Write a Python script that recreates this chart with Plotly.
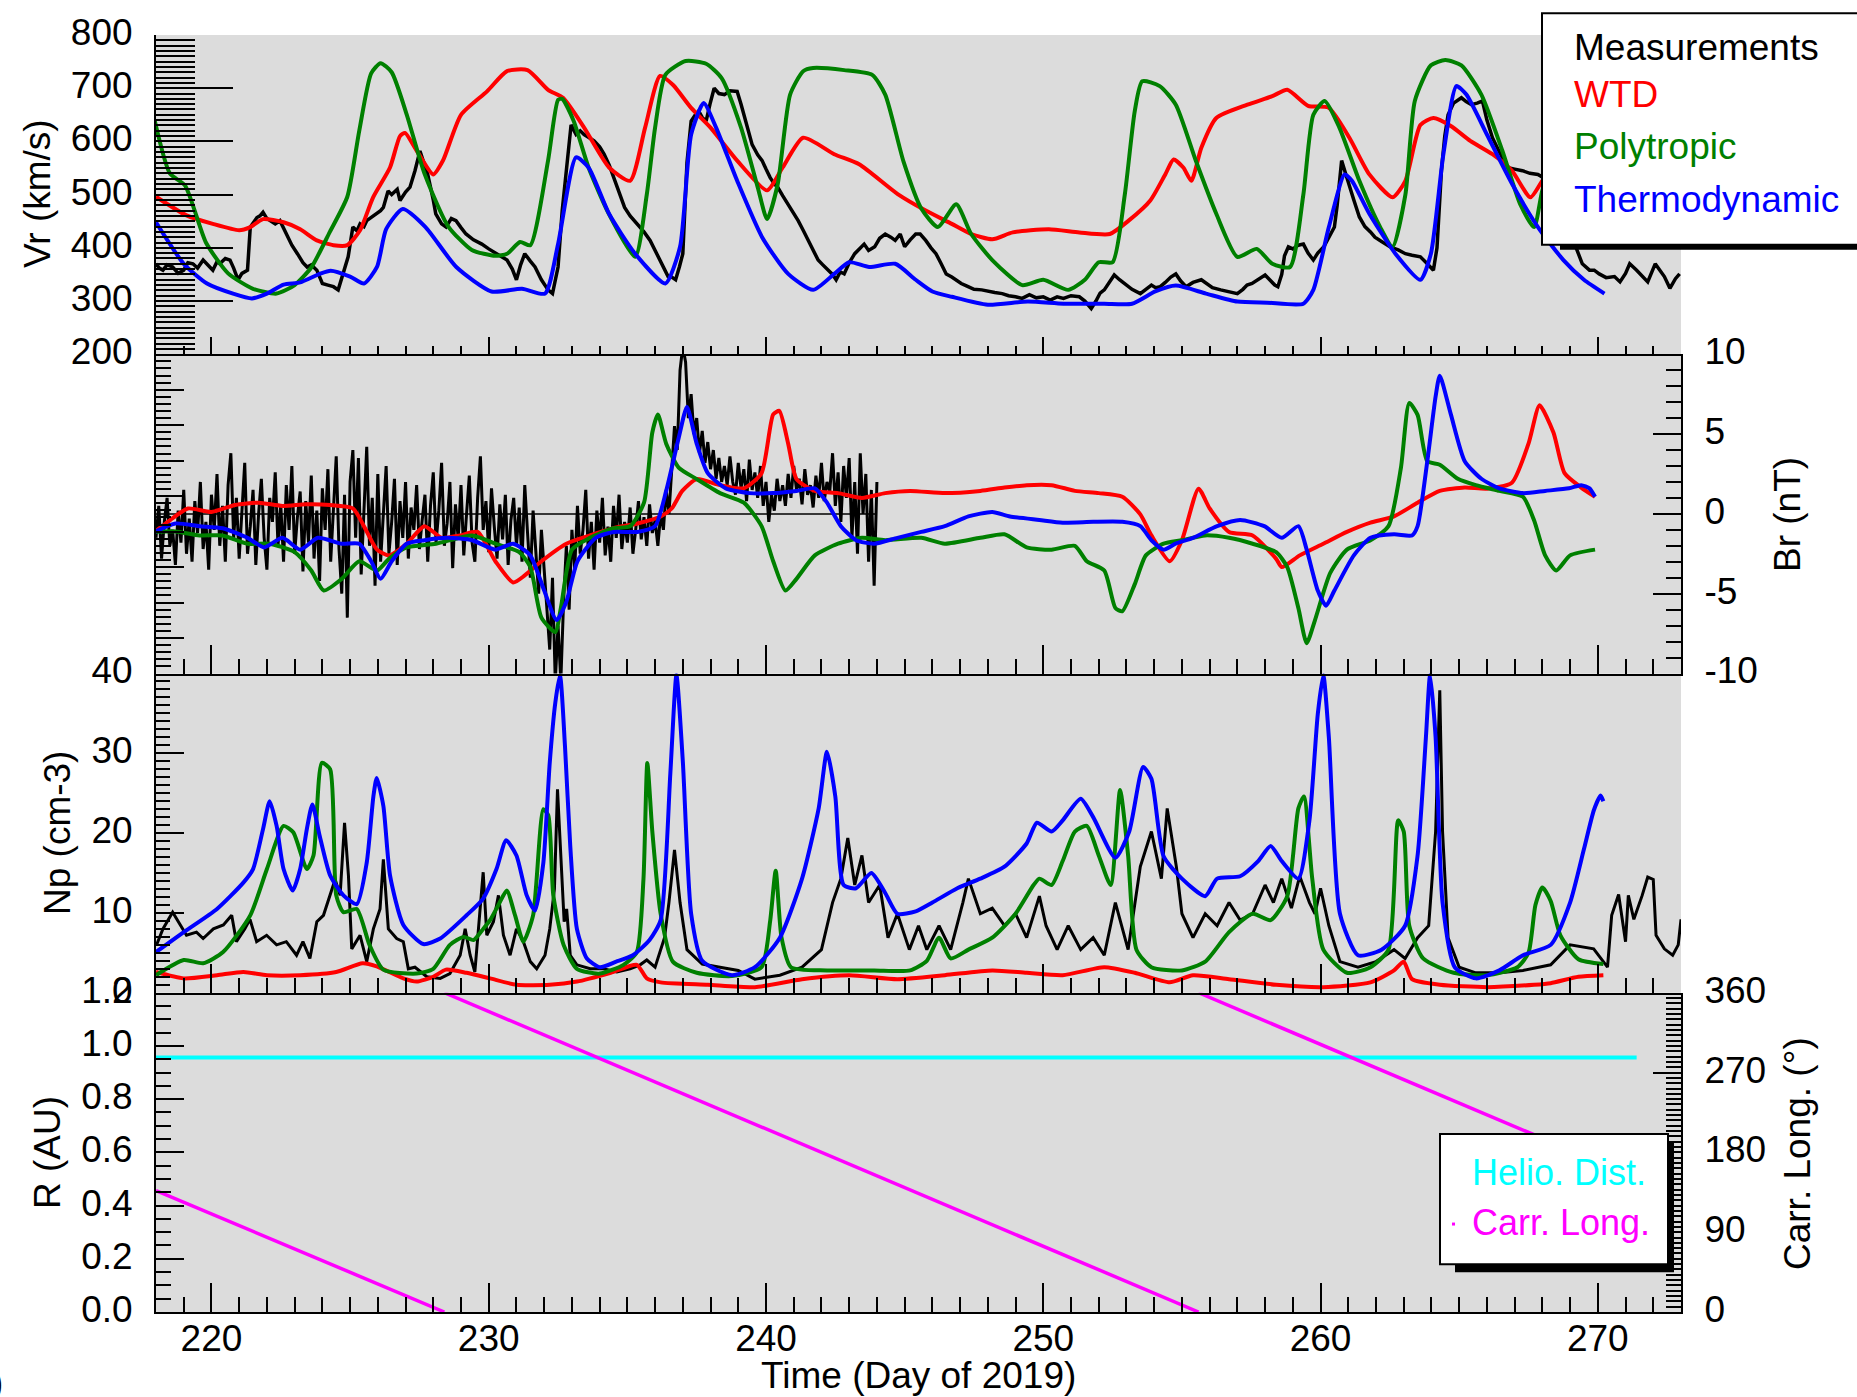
import plotly.graph_objects as go

FONT = "Liberation Sans, Arial, Helvetica, sans-serif"

# ---------------- Panel 1: Vr (km/s) ----------------
VR_MEAS_DAY = [218.0, 218.12, 218.25, 218.4, 218.6, 218.8, 219.0, 219.15, 219.33, 219.5, 219.7, 219.85, 220.05, 220.2, 220.3, 220.5, 220.67, 220.8, 220.96, 221.1, 221.3, 221.4, 221.55, 221.64, 221.75, 221.86, 222.0, 222.1, 222.3, 222.47, 222.6, 222.7, 222.9, 223.1, 223.3, 223.45, 223.6, 223.8, 223.9, 224.0, 224.2, 224.4, 224.57, 224.75, 224.93, 225.1, 225.25, 225.36, 225.5, 225.6, 225.8, 225.97, 226.1, 226.2, 226.37, 226.5, 226.7, 226.8, 227.0, 227.16, 227.34, 227.52, 227.65, 227.8, 228.0, 228.09, 228.3, 228.46, 228.65, 228.82, 229.0, 229.18, 229.45, 229.75, 230.0, 230.3, 230.5, 230.66, 230.85, 231.0, 231.15, 231.3, 231.5, 231.67, 231.9, 232.14, 232.3, 232.5, 232.65, 232.8, 232.97, 233.15, 233.3, 233.44, 233.6, 233.8, 234.0, 234.16, 234.35, 234.52, 234.7, 234.9, 235.1, 235.35, 235.6, 235.82, 236.0, 236.18, 236.35, 236.47, 236.6, 236.74, 236.88, 237.0, 237.15, 237.3, 237.45, 237.57, 237.7, 237.84, 237.98, 238.13, 238.3, 238.5, 238.7, 238.96, 239.1, 239.2, 239.35, 239.5, 239.7, 239.86, 240.0, 240.15, 240.3, 240.42, 240.6, 240.8, 241.0, 241.16, 241.35, 241.52, 241.7, 241.88, 242.05, 242.26, 242.4, 242.53, 242.68, 242.82, 243.0, 243.2, 243.35, 243.54, 243.7, 243.92, 244.1, 244.3, 244.5, 244.66, 244.84, 245.0, 245.2, 245.4, 245.56, 245.76, 245.95, 246.13, 246.3, 246.5, 246.7, 246.9, 247.04, 247.25, 247.5, 247.78, 248.0, 248.25, 248.52, 248.75, 249.0, 249.24, 249.5, 249.75, 250.0, 250.25, 250.5, 250.73, 251.0, 251.3, 251.5, 251.73, 251.9, 252.05, 252.2, 252.4, 252.56, 252.75, 252.94, 253.2, 253.5, 253.7, 253.9, 254.05, 254.22, 254.4, 254.6, 254.78, 254.95, 255.15, 255.4, 255.7, 255.9, 256.1, 256.4, 256.7, 257.0, 257.2, 257.35, 257.53, 257.75, 258.0, 258.2, 258.35, 258.46, 258.6, 258.7, 258.84, 259.0, 259.2, 259.38, 259.55, 259.74, 259.9, 260.12, 260.3, 260.5, 260.6, 260.68, 260.76, 260.9, 261.04, 261.2, 261.4, 261.6, 261.8, 261.96, 262.2, 262.5, 262.8, 263.06, 263.3, 263.6, 263.85, 264.07, 264.2, 264.36, 264.48, 264.6, 264.8, 265.08, 265.25, 265.44, 265.65, 265.84, 266.0, 266.2, 266.45, 266.74, 267.0, 267.28, 267.55, 267.84, 268.1, 268.4, 268.7, 269.0, 269.2, 269.44, 269.7, 269.87, 270.05, 270.3, 270.6, 270.8, 271.0, 271.15, 271.4, 271.6, 271.8, 272.07, 272.2, 272.4, 272.6, 272.8, 272.95]
VR_MEAS = [370, 362, 358, 368, 364, 352, 358, 372, 370, 362, 377, 368, 358, 374, 370, 380, 377, 362, 340, 352, 358, 439, 450, 457, 460, 467, 455, 451, 445, 451, 438, 426, 405, 389, 372, 364, 368, 358, 345, 333, 330, 327, 321, 351, 383, 439, 432, 445, 440, 451, 458, 464, 470, 476, 507, 500, 510, 489, 505, 514, 545, 582, 560, 538, 490, 464, 445, 439, 455, 451, 438, 426, 415, 407, 398, 389, 382, 377, 360, 340, 368, 389, 375, 364, 340, 321, 314, 364, 470, 551, 631, 613, 620, 613, 608, 601, 590, 576, 555, 532, 505, 476, 460, 445, 430, 414, 395, 377, 360, 346, 345, 340, 365, 389, 560, 638, 650, 657, 645, 638, 670, 700, 690, 688, 695, 694, 670, 650, 620, 594, 575, 564, 548, 532, 520, 514, 498, 482, 465, 451, 432, 414, 395, 377, 368, 358, 350, 340, 355, 351, 372, 389, 398, 407, 395, 402, 418, 426, 420, 414, 426, 402, 415, 426, 426, 414, 400, 389, 372, 351, 345, 338, 333, 328, 322, 321, 318, 316, 314, 310, 308, 305, 312, 306, 308, 302, 308, 305, 310, 308, 300, 286, 300, 315, 321, 338, 349, 340, 333, 322, 314, 322, 330, 325, 327, 335, 345, 351, 338, 327, 335, 340, 332, 325, 321, 318, 314, 322, 330, 333, 340, 349, 338, 330, 327, 350, 385, 402, 398, 405, 407, 390, 377, 390, 402, 420, 439, 480, 530, 564, 540, 514, 490, 458, 440, 430, 420, 412, 402, 396, 389, 386, 383, 370, 358, 400, 545, 610, 650, 672, 682, 675, 669, 672, 676, 640, 607, 580, 551, 548, 545, 540, 538, 530, 510, 470, 430, 401, 370, 358, 358, 351, 344, 346, 336, 352, 370, 358, 348, 336, 370, 360, 346, 324, 342, 351]

VR_WTD_DAY = [218.0, 219.1, 220.05, 221.0, 221.4, 221.86, 222.6, 223.2, 223.8, 224.4, 224.9, 225.36, 225.83, 226.44, 226.8, 226.98, 227.34, 228.0, 228.35, 229.0, 229.94, 230.66, 231.4, 232.14, 232.68, 233.44, 234.34, 235.1, 235.64, 236.18, 236.65, 237.3, 238.0, 238.96, 240.04, 240.6, 241.34, 242.46, 243.36, 244.75, 245.76, 246.7, 247.4, 248.16, 248.9, 250.2, 251.3, 252.4, 253.1, 253.86, 254.4, 254.7, 255.05, 255.34, 255.7, 256.24, 257.36, 258.26, 258.8, 259.55, 260.3, 261.04, 261.76, 262.6, 263.06, 263.6, 264.07, 264.7, 265.4, 266.2, 266.9, 267.57, 268.0, 268.6, 269.4, 270.3]
VR_WTD = [496, 461, 445, 433, 439, 454, 448, 435, 414, 405, 405, 433, 495, 551, 610, 616, 588, 538, 564, 650, 694, 732, 734, 697, 682, 626, 551, 526, 626, 723, 706, 663, 626, 564, 508, 551, 607, 576, 557, 501, 470, 445, 426, 416, 429, 435, 429, 426, 452, 489, 538, 566, 551, 526, 588, 644, 669, 685, 697, 667, 663, 607, 538, 495, 526, 631, 644, 629, 601, 576, 545, 495, 526, 560, 565, 560]

VR_POLY_DAY = [217.95, 218.5, 219.05, 219.8, 220.6, 221.5, 222.35, 223.0, 223.6, 224.27, 224.9, 225.33, 225.76, 226.1, 226.5, 227.04, 227.68, 228.53, 229.39, 230.24, 230.66, 231.13, 231.5, 232.14, 232.5, 232.65, 233.06, 233.6, 234.34, 235.28, 235.7, 236.0, 236.37, 237.1, 237.84, 238.4, 239.1, 239.7, 240.04, 240.42, 240.87, 241.34, 241.7, 242.82, 243.83, 244.3, 244.96, 245.6, 246.2, 246.86, 247.4, 248.16, 249.24, 250.0, 250.9, 251.5, 252.0, 252.5, 252.94, 253.3, 253.57, 254.2, 254.78, 255.5, 256.24, 257.0, 257.7, 258.26, 258.9, 259.38, 259.74, 260.15, 260.68, 261.4, 262.15, 262.6, 263.06, 263.4, 263.98, 264.5, 265.08, 265.8, 266.56, 267.2, 267.7, 268.0, 268.5, 269.3, 270.3]
VR_POLY = [640, 540, 517, 410, 352, 323, 314, 330, 363, 430, 496, 620, 728, 747, 730, 651, 540, 441, 396, 385, 389, 411, 405, 564, 678, 680, 639, 551, 463, 383, 500, 626, 725, 751, 746, 719, 626, 514, 454, 519, 688, 732, 738, 734, 725, 688, 562, 474, 439, 482, 426, 377, 330, 340, 321, 340, 373, 373, 500, 657, 713, 704, 669, 564, 464, 383, 398, 370, 364, 500, 650, 676, 626, 526, 439, 402, 500, 676, 743, 753, 743, 688, 582, 482, 439, 508, 580, 620, 640]

VR_THERMO_DAY = [218.0, 219.0, 219.84, 220.78, 221.46, 222.0, 222.6, 223.2, 223.9, 224.3, 225.0, 225.5, 225.97, 226.3, 226.9, 227.72, 228.83, 230.1, 231.2, 232.03, 232.5, 233.15, 233.6, 234.34, 235.28, 236.37, 236.9, 237.3, 237.75, 238.2, 238.96, 239.86, 240.8, 241.7, 242.46, 243.0, 243.72, 244.66, 245.4, 246.0, 246.7, 248.0, 249.44, 250.73, 252.2, 253.2, 254.04, 254.78, 255.87, 257.0, 258.08, 259.38, 259.74, 260.3, 260.87, 261.13, 261.76, 262.7, 263.6, 263.98, 264.43, 264.9, 265.26, 266.0, 266.92, 267.84, 268.76, 269.5, 270.24]
VR_THERMO = [448, 370, 333, 314, 305, 314, 331, 335, 351, 357, 346, 333, 364, 435, 473, 439, 364, 318, 323, 314, 407, 570, 551, 464, 389, 333, 402, 613, 672, 626, 526, 420, 351, 321, 351, 373, 364, 370, 340, 318, 308, 293, 299, 295, 295, 295, 318, 329, 314, 299, 297, 295, 321, 439, 538, 526, 464, 389, 340, 389, 576, 704, 688, 613, 519, 439, 377, 340, 314]

# ---------------- Panel 2: Br (nT) ----------------
BR_MEAS_START = 218.0
BR_MEAS_STEP = 0.1
BR_MEAS = [-1.5, 0.5, -2.8, -0.5, 1.0, -2.0, -1.0, -3.2, 0.2, -1.8,
           1.5, -2.5, -0.3, -3.0, 0.8, -1.2, 2.0, -2.2, -0.5, -3.5,
           1.2, -1.0, 2.5, -2.0, 0.5, -3.0, 1.8, 3.8, -1.5, 1.0,
           -2.8, 0.3, 3.2, -2.5, -0.8, 1.5, -3.2, 0.0, 2.2, -1.5,
           -3.5, 1.0, -0.5, 2.6, -2.0, 0.6, -3.0, 1.8, -1.0, 3.0,
           -2.5, -0.2, 1.4, -3.6, 0.8, -1.8, 2.4, -2.8, 0.2, -4.2,
           1.6, -1.0, 2.8, -3.0, 0.0, 3.6, -2.2, -5.0, 1.2, -6.5,
           2.0, 4.0, -1.5, 3.5, -3.8, 0.5, 4.2, -2.0, 1.0, -4.5,
           2.5, -3.0, 0.0, 3.0, -2.5, -0.5, 2.2, -3.2, 0.8, -1.5,
           2.0, -2.8, 0.4, -1.0, 1.8, -2.2, -0.4, 1.2, -3.0, 0.5,
           2.6, -1.8, 0.2, 3.2, -2.0, -0.6, 2.0, -3.4, 0.6, -1.6,
           1.8, -2.6, 0.0, 2.4, -1.8, -3.0, 1.0, 3.6, -1.0, 0.8,
           -2.4, 1.6, -0.8, -2.8, 0.6, -1.6, 1.2, -3.2, -0.4, 1.0,
           -2.0, 0.4, -3.0, 1.8, -1.2, -4.0, 0.2, -2.6, -5.0, -1.0,
           -3.6, -6.0, -8.5, -4.0, -10.5, -7.0, -10.5, -5.5, -2.0, -6.0,
           -1.0, -3.5, 0.5, -2.5, -1.0, 1.5, -2.8, -0.5, -3.5, 0.2,
           -1.8, 1.0, -2.6, -0.8, -3.0, 0.5, -1.5, 1.2, -2.2, -0.5,
           -1.8, 0.4, -2.5, -1.0, 0.8, -1.6, -0.2, -2.0, 0.6, -1.2,
           -0.4, -2.0, 0.0, -1.0, 1.5, 0.0, 3.0, 5.5, 4.0, 9.0,
           10.5, 9.5, 6.0, 7.5, 5.0, 6.0, 3.8, 5.2, 3.2, 4.5,
           2.8, 4.0, 2.2, 3.5, 2.0, 3.0, 1.8, 3.6, 2.0, 1.2,
           3.2, 1.6, 2.8, 0.8, 3.4, 1.5, 2.6, 1.0, 3.0, 0.5,
           2.0, -0.5, 1.2, 0.2, 2.2, 0.8, 1.8, 0.5, 2.5, 1.0,
           3.0, 1.5, 2.2, 0.6, 2.8, 1.2, 1.8, 0.4, 2.4, 1.0,
           3.2, 0.8, 2.0, 1.4, 3.8, 0.5, 2.6, -0.5, 3.0, 1.0,
           3.5, -1.5, 2.0, -2.5, 3.8, 0.0, 2.5, -3.0, 1.5, -4.5,
           2.0]
BR_MEAS_DAY = [round(BR_MEAS_START + BR_MEAS_STEP * i, 2) for i in range(len(BR_MEAS))]

BR_ZERO_DAY = [218.0, 244.0]
BR_ZERO = [0.0, 0.0]

BR_WTD_DAY = [217.95, 218.5, 219.15, 220.0, 220.85, 221.7, 222.56, 223.4, 224.27, 225.1, 225.5, 225.97, 226.4, 227.04, 227.68, 228.3, 228.96, 229.6, 230.24, 230.88, 231.3, 231.9, 232.8, 233.65, 234.5, 235.36, 236.2, 236.6, 236.98, 237.5, 238.34, 239.2, 239.84, 240.26, 240.48, 240.8, 241.1, 241.76, 242.6, 243.46, 244.3, 245.2, 246.45, 247.73, 248.6, 249.4, 250.3, 251.14, 252.0, 252.85, 253.5, 253.9, 254.56, 255.0, 255.6, 256.0, 256.7, 257.55, 258.4, 258.6, 259.25, 260.1, 260.95, 261.8, 262.65, 263.5, 264.3, 265.2, 266.0, 266.9, 267.5, 267.9, 268.4, 268.8, 269.4, 269.9]
BR_WTD = [-1.13, -0.4, 0.34, 0.12, 0.56, 0.7, 0.5, 0.6, 0.56, 0.34, -0.77, -2.24, -2.6, -1.87, -0.77, -1.5, -1.35, -1.13, -2.97, -4.3, -3.86, -2.97, -1.87, -1.35, -0.9, -0.6, -0.16, 0.34, 1.44, 2.18, 1.8, 1.6, 2.55, 6.23, 6.45, 4.4, 2.18, 1.44, 1.3, 1.0, 1.3, 1.44, 1.3, 1.44, 1.65, 1.8, 1.8, 1.44, 1.3, 1.07, -0.03, -1.35, -2.97, -1.65, 1.58, 0.34, -1.13, -1.35, -2.82, -3.33, -2.6, -1.87, -1.13, -0.55, -0.16, 0.7, 1.44, 1.65, 1.58, 1.95, 4.4, 6.8, 5.1, 2.55, 1.65, 1.07]

BR_POLY_DAY = [217.95, 218.7, 219.57, 220.4, 221.3, 222.1, 223.0, 223.6, 224.05, 224.7, 225.33, 225.97, 226.4, 227.04, 228.1, 229.4, 230.24, 231.1, 231.5, 231.9, 232.4, 232.6, 233.0, 233.65, 234.5, 235.1, 235.6, 235.9, 236.1, 236.4, 236.85, 237.5, 238.34, 239.2, 239.84, 240.26, 240.7, 241.1, 241.76, 242.6, 243.46, 244.3, 245.6, 246.45, 247.73, 248.6, 249.4, 250.3, 251.14, 251.57, 252.2, 252.6, 252.85, 253.3, 253.7, 254.34, 255.0, 255.84, 256.7, 257.55, 258.4, 258.8, 259.2, 259.5, 259.8, 260.35, 260.95, 261.8, 262.45, 262.9, 263.2, 263.5, 263.85, 264.3, 264.95, 265.6, 266.45, 267.3, 267.7, 268.1, 268.5, 269.0, 269.9]
BR_POLY = [-1.13, -1.1, -1.35, -1.35, -1.87, -1.87, -2.4, -3.55, -4.8, -4.07, -2.97, -3.55, -2.82, -2.1, -1.87, -1.35, -1.87, -2.4, -3.33, -6.5, -7.4, -5.9, -2.24, -1.5, -0.9, -0.77, 0.7, 5.1, 6.23, 4.4, 2.9, 2.18, 1.3, 0.7, -0.77, -2.97, -4.8, -4.07, -2.6, -1.87, -1.5, -1.65, -1.5, -1.87, -1.5, -1.28, -2.1, -2.24, -2.0, -2.97, -3.55, -5.9, -6.1, -4.4, -2.6, -1.87, -1.65, -1.35, -1.5, -1.87, -2.4, -3.33, -5.9, -8.1, -6.65, -3.7, -2.24, -1.65, -0.77, 2.9, 6.95, 6.2, 3.3, 3.08, 2.2, 1.8, 1.44, 1.07, -0.4, -2.6, -3.55, -2.6, -2.24]

BR_THERMO_DAY = [217.95, 218.7, 219.57, 220.4, 221.3, 221.9, 222.56, 223.2, 223.84, 224.7, 225.33, 225.76, 226.1, 226.5, 227.04, 227.68, 228.53, 229.4, 230.24, 230.88, 231.5, 232.0, 232.45, 232.8, 233.2, 233.86, 234.5, 235.36, 236.0, 236.4, 236.85, 237.15, 237.5, 237.9, 238.55, 239.4, 240.26, 241.1, 241.76, 242.2, 242.7, 243.25, 243.9, 244.74, 245.6, 246.45, 247.3, 248.16, 248.8, 249.86, 250.7, 251.8, 252.85, 253.5, 253.9, 254.34, 254.77, 255.4, 256.27, 257.1, 257.97, 258.6, 259.2, 259.5, 259.9, 260.2, 260.5, 261.2, 261.8, 262.65, 263.3, 263.5, 263.85, 264.15, 264.3, 264.7, 265.2, 265.8, 266.45, 267.3, 268.1, 268.96, 269.4, 269.7, 269.9]
BR_THERMO = [-1.13, -0.6, -0.77, -0.9, -1.5, -2.1, -1.5, -2.24, -1.5, -1.87, -1.87, -2.97, -4.07, -2.97, -1.87, -1.65, -1.5, -1.65, -2.24, -1.87, -2.6, -4.8, -6.65, -5.5, -2.97, -1.5, -1.13, -1.13, -0.77, 1.44, 4.75, 6.7, 4.4, 2.55, 1.6, 1.3, 1.3, 1.44, 1.6, 0.7, -0.77, -1.65, -1.87, -1.5, -1.13, -0.77, -0.16, 0.12, -0.16, -0.38, -0.55, -0.5, -0.5, -0.77, -1.65, -2.24, -1.87, -1.5, -0.77, -0.38, -0.77, -1.5, -0.77, -2.24, -4.8, -5.75, -4.8, -2.6, -1.5, -1.28, -1.35, -0.77, 3.3, 7.35, 8.65, 6.23, 3.3, 2.2, 1.6, 1.3, 1.44, 1.6, 1.8, 1.6, 1.07]

# ---------------- Panel 3: Np (cm-3) ----------------
NP_MEAS_DAY = [218.02, 218.25, 218.6, 218.87, 219.1, 219.46, 219.7, 220.07, 220.43, 220.73, 220.9, 221.2, 221.39, 221.63, 221.99, 222.35, 222.7, 223.07, 223.3, 223.55, 223.8, 224.04, 224.28, 224.46, 224.64, 224.8, 224.94, 225.06, 225.36, 225.6, 225.84, 226.08, 226.2, 226.38, 226.68, 226.92, 227.1, 227.34, 227.77, 228.25, 228.6, 228.97, 229.15, 229.33, 229.5, 229.63, 229.8, 229.93, 230.17, 230.35, 230.53, 230.77, 231.0, 231.25, 231.5, 231.73, 232.03, 232.2, 232.37, 232.48, 232.6, 232.72, 232.81, 232.94, 233.18, 233.66, 234.14, 234.62, 235.1, 235.46, 235.7, 236.0, 236.34, 236.5, 236.7, 236.9, 237.15, 237.7, 238.34, 239.0, 239.6, 240.5, 241.3, 242.0, 242.4, 242.7, 242.95, 243.2, 243.46, 243.7, 244.1, 244.4, 244.74, 245.17, 245.5, 245.8, 246.24, 246.66, 247.1, 247.3, 247.73, 248.16, 248.6, 249.0, 249.4, 249.86, 250.1, 250.5, 250.9, 251.35, 251.8, 252.2, 252.6, 253.06, 253.5, 253.9, 254.26, 254.47, 254.8, 255.0, 255.4, 255.84, 256.27, 256.7, 257.1, 257.55, 258.0, 258.3, 258.6, 258.95, 259.25, 259.6, 259.8, 260.0, 260.3, 260.7, 261.35, 262.0, 262.65, 263.05, 263.5, 263.9, 264.15, 264.3, 264.4, 264.6, 265.0, 265.6, 266.45, 267.3, 268.3, 269.0, 269.85, 270.35, 270.5, 270.75, 271.0, 271.1, 271.3, 271.6, 271.8, 272.0, 272.1, 272.4, 272.7, 272.9, 273.0]
NP_MEAS = [6.0, 8.0, 10.1, 8.5, 7.2, 7.6, 6.8, 8.0, 8.5, 9.7, 6.4, 8.0, 9.2, 6.4, 7.2, 6.0, 6.4, 4.7, 6.4, 4.3, 8.9, 9.7, 12.2, 14.2, 12.2, 21.3, 14.7, 5.5, 7.2, 3.9, 8.0, 10.5, 16.7, 8.0, 6.8, 6.4, 3.0, 3.2, 2.0, 1.8, 2.4, 4.7, 8.0, 4.7, 2.6, 8.0, 15.1, 7.2, 8.9, 12.2, 7.2, 4.7, 8.0, 6.4, 3.9, 3.0, 4.7, 8.0, 13.0, 25.5, 16.3, 8.9, 10.5, 4.7, 3.5, 3.0, 3.0, 2.6, 3.0, 3.5, 4.1, 3.2, 6.9, 11.3, 17.9, 11.3, 5.4, 3.6, 3.2, 2.8, 1.7, 2.2, 3.2, 5.4, 11.3, 14.3, 19.4, 13.5, 17.2, 11.3, 13.5, 6.9, 9.9, 5.4, 8.4, 5.4, 8.4, 5.4, 11.3, 14.3, 9.9, 10.6, 8.4, 9.9, 6.9, 12.1, 8.4, 5.4, 8.4, 5.4, 6.9, 4.7, 11.3, 5.4, 15.8, 20.2, 14.3, 23.1, 15.8, 9.9, 6.9, 9.9, 8.4, 11.3, 9.1, 9.9, 13.5, 11.3, 14.3, 10.6, 14.6, 11.3, 9.9, 13.1, 8.4, 3.9, 3.2, 3.9, 5.4, 4.3, 6.9, 8.4, 20.2, 37.9, 20.2, 6.9, 3.2, 2.5, 2.5, 2.8, 3.5, 6.0, 5.5, 3.2, 9.7, 12.3, 6.4, 12.2, 9.2, 12.2, 14.5, 14.2, 7.2, 5.5, 4.7, 6.0, 9.2]

NP_WTD_DAY = [218.0, 219.0, 220.2, 221.15, 222.0, 223.2, 224.5, 225.45, 225.96, 226.92, 227.4, 228.0, 228.46, 229.2, 230.05, 231.0, 232.2, 233.18, 234.4, 235.34, 235.7, 236.2, 237.9, 239.6, 241.3, 243.0, 244.74, 246.45, 248.16, 249.4, 250.7, 252.2, 253.3, 254.56, 255.4, 256.7, 258.4, 260.1, 261.8, 262.65, 263.0, 263.3, 264.3, 266.0, 267.7, 268.3, 269.3, 270.2]
NP_WTD = [2.6, 1.8, 2.2, 2.6, 2.2, 2.2, 2.6, 3.7, 3.3, 1.8, 1.4, 2.0, 2.9, 2.5, 1.8, 1.0, 1.0, 1.4, 2.5, 3.5, 1.8, 1.3, 1.0, 0.7, 1.7, 2.2, 1.7, 2.2, 2.8, 2.5, 2.2, 3.2, 2.5, 1.3, 2.2, 1.7, 1.0, 0.7, 1.3, 2.8, 3.9, 1.7, 1.0, 0.7, 1.0, 1.2, 2.0, 2.2]

NP_POLY_DAY = [218.0, 219.0, 219.7, 220.42, 221.4, 222.0, 222.6, 222.95, 223.44, 223.68, 223.98, 224.28, 224.5, 224.76, 225.24, 225.7, 226.2, 227.4, 228.0, 228.6, 229.1, 229.45, 229.8, 230.05, 230.35, 230.65, 230.95, 231.25, 231.6, 231.97, 232.15, 232.33, 232.7, 233.18, 234.0, 234.86, 235.34, 235.58, 235.72, 235.9, 236.2, 236.64, 237.5, 238.77, 239.84, 240.15, 240.35, 240.56, 240.9, 242.2, 243.9, 245.2, 245.8, 246.24, 246.66, 247.3, 248.16, 249.0, 249.65, 249.86, 250.3, 250.7, 251.14, 251.57, 252.0, 252.43, 252.77, 253.06, 253.36, 253.9, 255.0, 255.84, 256.7, 257.55, 258.2, 258.8, 259.2, 259.4, 259.7, 260.1, 260.95, 261.8, 262.45, 262.8, 263.0, 263.2, 263.7, 264.8, 266.0, 267.1, 267.5, 267.75, 268.0, 268.3, 268.65, 269.3, 270.2]
NP_POLY = [2.2, 4.1, 3.7, 5.1, 9.7, 15.5, 20.9, 20.1, 15.5, 17.2, 28.8, 28.0, 12.2, 10.1, 10.5, 6.0, 2.9, 2.4, 3.0, 6.0, 7.0, 6.6, 8.0, 9.1, 11.0, 12.8, 9.7, 6.4, 9.7, 23.0, 22.2, 12.2, 6.0, 3.0, 2.4, 3.5, 5.1, 14.2, 28.8, 20.2, 9.9, 3.9, 2.5, 2.1, 3.2, 9.0, 15.3, 6.9, 3.2, 2.8, 2.8, 2.8, 4.0, 6.9, 4.3, 5.4, 6.9, 9.9, 13.5, 14.3, 13.5, 16.5, 20.2, 20.9, 17.2, 13.5, 25.4, 17.2, 5.4, 3.2, 2.8, 3.9, 7.6, 9.9, 9.1, 12.1, 23.1, 24.6, 14.3, 5.4, 2.5, 3.2, 5.4, 21.6, 20.2, 8.4, 4.3, 2.5, 2.2, 3.2, 5.0, 11.0, 13.2, 11.5, 7.2, 4.2, 3.6]

NP_THERMO_DAY = [218.0, 219.0, 220.2, 221.15, 221.5, 221.86, 222.1, 222.35, 222.6, 222.93, 223.2, 223.44, 223.64, 223.9, 224.28, 224.76, 225.24, 225.6, 225.84, 225.96, 226.2, 226.44, 226.92, 227.64, 228.25, 229.2, 229.8, 230.28, 230.63, 231.0, 231.37, 231.67, 231.97, 232.2, 232.4, 232.57, 232.75, 232.94, 233.18, 233.54, 234.0, 234.6, 235.2, 235.8, 236.2, 236.55, 236.77, 237.0, 237.3, 237.7, 238.77, 239.6, 240.5, 241.3, 241.9, 242.2, 242.5, 242.8, 243.25, 243.8, 244.3, 244.74, 245.4, 246.0, 246.9, 247.73, 248.6, 249.4, 249.77, 250.3, 250.7, 251.35, 251.8, 252.6, 253.1, 253.6, 253.9, 254.34, 255.0, 255.84, 256.27, 257.1, 257.75, 258.2, 258.6, 259.2, 259.6, 259.9, 260.1, 260.3, 260.7, 261.35, 262.2, 263.05, 263.5, 263.8, 263.95, 264.15, 264.4, 264.84, 265.6, 266.45, 267.3, 268.3, 269.0, 269.5, 269.86, 270.1, 270.2]
NP_THERMO = [5.1, 7.6, 10.5, 13.8, 15.5, 20.5, 24.0, 20.9, 15.5, 12.8, 15.5, 20.5, 23.6, 19.7, 14.7, 12.2, 11.1, 16.3, 24.6, 26.9, 23.4, 14.7, 8.5, 6.1, 6.8, 9.7, 11.8, 15.5, 19.1, 17.2, 12.2, 10.3, 16.3, 28.8, 36.3, 39.8, 30.9, 18.4, 8.0, 4.3, 3.2, 3.9, 4.7, 6.6, 9.1, 27.5, 39.8, 29.0, 9.9, 4.0, 2.2, 3.2, 6.9, 14.3, 23.1, 30.2, 24.6, 13.5, 13.1, 15.0, 12.5, 9.9, 10.2, 11.3, 13.1, 14.3, 15.8, 18.7, 21.3, 20.2, 21.6, 24.3, 22.0, 16.9, 20.2, 28.3, 26.8, 17.1, 14.3, 12.1, 14.3, 14.6, 16.5, 18.4, 16.5, 14.3, 21.6, 34.9, 39.8, 32.0, 9.9, 4.7, 5.4, 8.4, 17.2, 32.0, 39.8, 32.0, 11.3, 3.2, 1.8, 2.8, 4.7, 6.0, 11.3, 18.0, 22.9, 24.7, 24.0]

# ---------------- Panel 4: heliocentric distance and Carrington longitude ----------------
R_DAY = [218.0, 271.4]
R_AU = [0.957, 0.957]
CARR_DAY = [218.0, 228.4, None, 228.4, 255.6, None, 255.6, 271.4]
CARR_LON = [137, 0, None, 360, 0, None, 360, 151]

# ---------------- Axis ranges / tick labels ----------------
X_RANGE = [218, 273]
VR_RANGE = [200, 800]
BR_RANGE = [-10, 10]
BR_TICKS = [-10, -5, 0, 5, 10]
BR_TICKTEXT = ["-10", "-5", "0", "5", "10"]
NP_RANGE = [0, 40]
R_RANGE = [0, 1.2]
CARR_RANGE = [0, 360]

BLACK = "black"
RED = "rgb(255,0,0)"
GREEN = "rgb(0,128,0)"
BLUE = "rgb(0,0,255)"
CYAN = "rgb(0,255,255)"
MAGENTA = "rgb(255,0,255)"

fig = go.Figure()


def add(x, y, color, width, xa, ya, spline=False):
    line = dict(color=color, width=width)
    if spline:
        line["shape"] = "spline"
        line["smoothing"] = 0.6
    fig.add_trace(go.Scatter(x=x, y=y, mode="lines", line=line, xaxis=xa, yaxis=ya,
                             hoverinfo="skip", showlegend=False, connectgaps=False))


# Panel 1
add(VR_MEAS_DAY, VR_MEAS, BLACK, 3.5, "x4", "y4")
add(VR_WTD_DAY, VR_WTD, RED, 4, "x4", "y4", True)
add(VR_POLY_DAY, VR_POLY, GREEN, 4, "x4", "y4", True)
add(VR_THERMO_DAY, VR_THERMO, BLUE, 4, "x4", "y4", True)
# Panel 2
add(BR_ZERO_DAY, BR_ZERO, BLACK, 1.5, "x3", "y3")
add(BR_MEAS_DAY, BR_MEAS, BLACK, 3, "x3", "y3")
add(BR_WTD_DAY, BR_WTD, RED, 4, "x3", "y3", True)
add(BR_POLY_DAY, BR_POLY, GREEN, 4, "x3", "y3", True)
add(BR_THERMO_DAY, BR_THERMO, BLUE, 4, "x3", "y3", True)
# unlabeled left axis of panel 2 (needs a trace to be drawn)
fig.add_trace(go.Scatter(x=[218], y=[0], mode="lines", xaxis="x3", yaxis="y6",
                         hoverinfo="skip", showlegend=False, opacity=0))
# Panel 3
add(NP_MEAS_DAY, NP_MEAS, BLACK, 3, "x2", "y2")
add(NP_WTD_DAY, NP_WTD, RED, 4, "x2", "y2", True)
add(NP_POLY_DAY, NP_POLY, GREEN, 4, "x2", "y2", True)
add(NP_THERMO_DAY, NP_THERMO, BLUE, 4, "x2", "y2", True)
# Panel 4
add(R_DAY, R_AU, CYAN, 4, "x", "y")
add(CARR_DAY, CARR_LON, MAGENTA, 3.5, "x", "y5")

TICKFONT = dict(family=FONT, size=37, color="black")


def xaxis(anchor, major, minor, labels):
    d = dict(range=X_RANGE, anchor=anchor, domain=[0, 1], tickmode="linear", tick0=220, dtick=10,
             ticks="inside", ticklen=major, tickwidth=2, tickcolor="black",
             minor=dict(ticks="inside", tick0=218, dtick=1, ticklen=minor, tickwidth=2, tickcolor="black"),
             showline=True, linecolor="black", linewidth=2, showgrid=False, zeroline=False,
             showticklabels=labels, tickfont=TICKFONT, ticklabelstandoff=-7, fixedrange=True)
    if anchor != "y":
        d["matches"] = "x"
    return d


def yaxis(rng, dtick, mdtick, major, minor, labels=True, side="left", **kw):
    d = dict(range=rng, tickmode="linear", tick0=rng[0], dtick=dtick, ticks="inside",
             ticklen=major, tickwidth=2, tickcolor="black",
             minor=dict(ticks="inside", tick0=rng[0], dtick=mdtick, ticklen=minor, tickwidth=2, tickcolor="black"),
             showline=True, linecolor="black", linewidth=2, showgrid=False, zeroline=False,
             showticklabels=labels, tickfont=TICKFONT, side=side, ticklabelstandoff=14,
             ticklabelshift=-3, fixedrange=True)
    d.update(kw)
    return d


fig.update_layout(
    width=1857, height=1397,
    margin=dict(l=156, r=176, t=27, b=85, pad=0),
    paper_bgcolor="white", plot_bgcolor="rgb(220,220,220)",
    showlegend=False,
    font=dict(family=FONT, size=37, color="black"),
    xaxis=xaxis("y", 29, 15, True),
    xaxis2=xaxis("y2", 29, 15, False),
    xaxis3=xaxis("y3", 29, 15, False),
    xaxis4=xaxis("y4", 17, 8, False),
    yaxis=yaxis(R_RANGE, 0.2, 0.05, 28, 15, domain=[0, 0.25], anchor="x", tickformat=".1f"),
    yaxis5=yaxis(CARR_RANGE, 90, 6, 28, 15, side="right", overlaying="y", anchor="x"),
    yaxis2=yaxis(NP_RANGE, 10, 1, 28, 14, domain=[0.25, 0.5], anchor="x2"),
    yaxis3=yaxis(BR_RANGE, 5, 1, 28, 15, side="right", domain=[0.5, 0.75], anchor="x3",
                 tickmode="array", tickvals=BR_TICKS, ticktext=BR_TICKTEXT),
    yaxis6=yaxis([0, 9], 1, 0.2, 28, 15, labels=False, overlaying="y3", anchor="x3"),
    yaxis4=yaxis(VR_RANGE, 100, 10, 77, 39, domain=[0.75, 1], anchor="x4"),
)

# ---- pixel helpers (plot area: x 156..1681, y 27..1312) ----
def px(X):
    return (X - 156) / 1525.0


def py(Y):
    return (1312 - Y) / 1285.0


shapes = []
# top legend (shadow + box)
shapes.append(dict(type="rect", xref="paper", yref="paper", x0=px(1560), x1=px(1880), y0=py(243), y1=py(10),
                   fillcolor="black", line=dict(width=0), layer="above"))
shapes.append(dict(type="rect", xref="paper", yref="paper", x0=px(1542), x1=px(1875), y0=py(238), y1=py(5),
                   fillcolor="white", line=dict(color="black", width=2), layer="above"))
# bottom legend (shadow + box)
shapes.append(dict(type="rect", xref="paper", yref="paper", x0=px(1455), x1=px(1674), y0=py(1272), y1=py(1141),
                   fillcolor="black", line=dict(width=0), layer="above"))
shapes.append(dict(type="rect", xref="paper", yref="paper", x0=px(1440), x1=px(1668), y0=py(1264), y1=py(1133),
                   fillcolor="white", line=dict(color="black", width=2), layer="above"))
shapes.append(dict(type="rect", xref="paper", yref="paper", x0=px(1452), x1=px(1455), y0=py(1225), y1=py(1222),
                   fillcolor=MAGENTA, line=dict(width=0), layer="above"))
fig.update_layout(shapes=shapes)

ann = []


def text(t, X, Y, color="black", size=37, angle=0, xanchor="center"):
    ann.append(dict(text=t, x=px(X), y=py(Y), xref="paper", yref="paper", showarrow=False,
                    textangle=angle, xanchor=xanchor, yanchor="middle",
                    font=dict(family=FONT, size=size, color=color)))


# axis titles
text("Vr (km/s)", 37, 187, angle=-90)
text("Np (cm-3)", 57, 830, angle=-90)
text("R (AU)", 48, 1152, angle=-90)
text("Br (nT)", 1788, 510, angle=-90)
text("Carr. Long. (°)", 1798, 1152, angle=-90)
text("Time (Day of 2019)", 918, 1376)
text(")", 5, 1383, xanchor="right")
# legends
text("Measurements", 1572, 40, xanchor="left")
text("WTD", 1572, 87, color=RED, xanchor="left")
text("Polytropic", 1572, 139, color=GREEN, xanchor="left")
text("Thermodynamic", 1572, 193, color=BLUE, xanchor="left")
text("Helio. Dist.", 1470, 1172, color=CYAN, size=36, xanchor="left")
text("Carr. Long.", 1470, 1222, color=MAGENTA, size=36, xanchor="left")
fig.update_layout(annotations=ann)

fig.write_html("out.html")
